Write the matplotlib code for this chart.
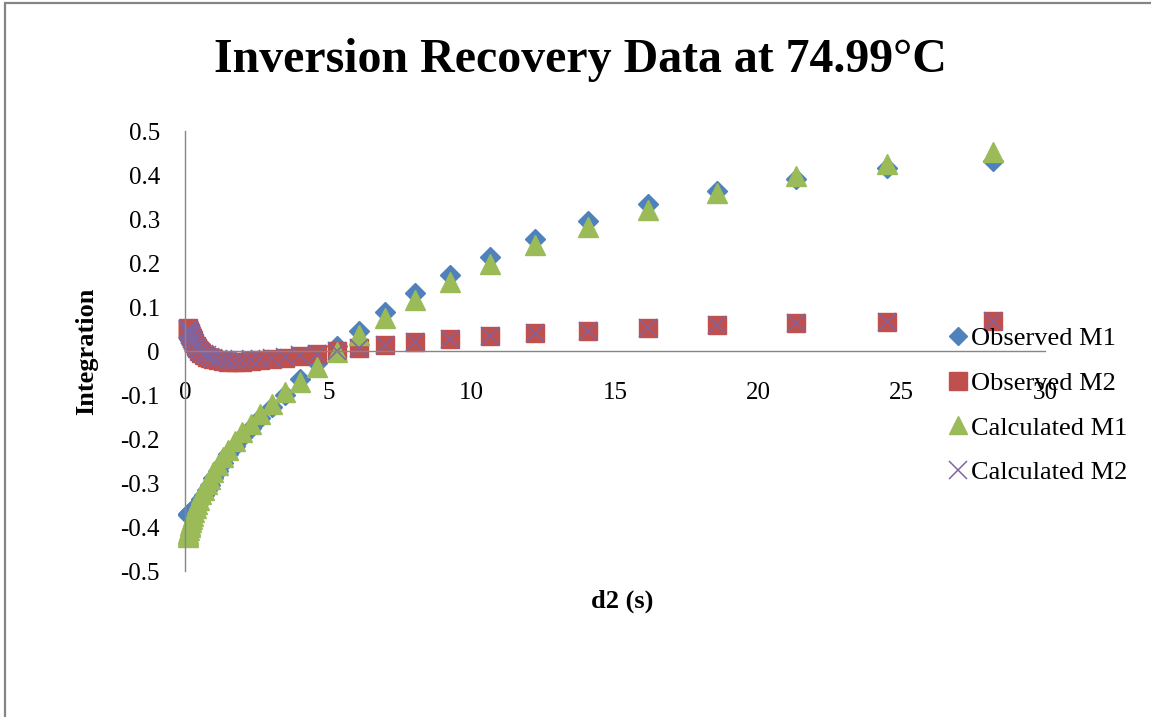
import matplotlib
matplotlib.use("Agg")
import matplotlib.pyplot as plt
from matplotlib.patches import Rectangle

# Delay times d2 (s)
d2 = [0.09, 0.105, 0.12, 0.14, 0.16, 0.185, 0.21, 0.245, 0.28, 0.32, 0.37, 0.43,
      0.49, 0.57, 0.65, 0.75, 0.86, 0.99, 1.14, 1.31, 1.5, 1.73, 1.99, 2.29, 2.63,
      3.02, 3.48, 4.0, 4.6, 5.29, 6.08, 6.99, 8.04, 9.23, 10.63, 12.2, 14.06, 16.15,
      18.57, 21.3, 24.5, 28.2]

observed_m1 = [-0.372, -0.371, -0.370, -0.369, -0.368, -0.367, -0.366, -0.364, -0.362,
               -0.360, -0.356, -0.351, -0.345, -0.337, -0.328, -0.317, -0.304, -0.289,
               -0.272, -0.254, -0.235, -0.215, -0.195, -0.174, -0.152, -0.128, -0.100,
               -0.064, -0.027, 0.012, 0.046, 0.089, 0.131, 0.172, 0.214, 0.255, 0.295,
               0.334, 0.364, 0.392, 0.415, 0.432]

observed_m2 = [0.052, 0.050, 0.048, 0.045, 0.042, 0.038, 0.034, 0.029, 0.024, 0.018,
               0.012, 0.006, 0.000, -0.005, -0.009, -0.013, -0.016, -0.019, -0.021,
               -0.023, -0.024, -0.024, -0.024, -0.023, -0.021, -0.019, -0.016, -0.012,
               -0.007, -0.001, 0.007, 0.014, 0.020, 0.027, 0.033, 0.040, 0.046, 0.052,
               0.059, 0.064, 0.066, 0.068]

calculated_m1 = [-0.423, -0.418, -0.413, -0.407, -0.401, -0.395, -0.389, -0.381, -0.374,
                 -0.366, -0.357, -0.347, -0.338, -0.326, -0.315, -0.303, -0.290, -0.275,
                 -0.259, -0.242, -0.224, -0.205, -0.185, -0.165, -0.144, -0.121, -0.094,
                 -0.070, -0.037, -0.002, 0.037, 0.076, 0.115, 0.156, 0.198, 0.240, 0.282,
                 0.321, 0.358, 0.397, 0.424, 0.452]

calculated_m2 = [0.051, 0.049, 0.047, 0.044, 0.041, 0.037, 0.033, 0.028, 0.023, 0.018,
                 0.012, 0.007, 0.002, -0.003, -0.006, -0.010, -0.013, -0.016, -0.018,
                 -0.019, -0.020, -0.020, -0.020, -0.019, -0.018, -0.016, -0.014, -0.010,
                 -0.006, -0.001, 0.007, 0.014, 0.020, 0.027, 0.033, 0.040, 0.046, 0.052,
                 0.058, 0.063, 0.066, 0.068]

x_ticks = [0, 5, 10, 15, 20, 25, 30]
x_tick_labels = ["0", "5", "10", "15", "20", "25", "30"]
y_ticks = [0.5, 0.4, 0.3, 0.2, 0.1, 0, -0.1, -0.2, -0.3, -0.4, -0.5]
y_tick_labels = ["0.5", "0.4", "0.3", "0.2", "0.1", "0", "-0.1", "-0.2", "-0.3", "-0.4", "-0.5"]

title = "Inversion Recovery Data at 74.99\u00b0C"
series_names = ["Observed M1", "Observed M2", "Calculated M1", "Calculated M2"]

plt.rcParams["font.family"] = ["Liberation Serif", "DejaVu Serif"]

W, H = 1151, 717
fig = plt.figure(figsize=(W / 100, H / 100), dpi=100)
fig.patch.set_facecolor("white")

# chart-area frame (only its left and top edges fall inside the canvas)
fig.add_artist(Rectangle((5 / W, -0.2), 1.3, 1.2 - 3 / H, transform=fig.transFigure,
                         fill=False, edgecolor="#858585", linewidth=1.6))

ax = fig.add_axes([185 / W, 146 / H, 860 / W, 440 / H])
ax.set_xlim(0, 30)
ax.set_ylim(-0.5, 0.5)

axis_grey = "#868686"
for side in ("top", "right"):
    ax.spines[side].set_visible(False)
ax.spines["left"].set_color(axis_grey)
ax.spines["left"].set_linewidth(1.0)
ax.spines["bottom"].set_position(("data", 0))
ax.spines["bottom"].set_color(axis_grey)
ax.spines["bottom"].set_linewidth(1.0)

ax.set_xticks(x_ticks)
ax.set_xticklabels(x_tick_labels, fontsize=18)
ax.set_yticks(y_ticks)
ax.set_yticklabels(y_tick_labels, fontsize=18)
ax.tick_params(axis="x", length=0, pad=22)
ax.tick_params(axis="y", length=0, pad=18)

styles = [
    dict(marker="D", markersize=9.8, color="#4F81BD", mec="#4F81BD"),
    dict(marker="s", markersize=13.4, color="#C0504D", mec="#C0504D"),
    dict(marker="^", markersize=14.0, color="#9BBB59", mec="#9BBB59"),
    dict(marker="x", markersize=13.0, color="#8064A2", mec="#8064A2", mew=1.1),
]
series = [observed_m1, observed_m2, calculated_m1, calculated_m2]
handles = []
for ys, name, st in zip(series, series_names, styles):
    (h,) = ax.plot(d2, ys, linestyle="none", label=name, clip_on=False, **st)
    handles.append(h)

ax.set_xlabel("d2 (s)", fontsize=19, fontweight="bold", va="baseline")
ax.xaxis.set_label_coords((622 - 185) / 860, (571 - 608) / 440)
ax.set_ylabel("Integration", fontsize=19, fontweight="bold", va="center")
ax.yaxis.set_label_coords((87 - 185) / 860, 0.5)

fig.text(580 / W, 1 - 72 / H, title, ha="center", va="baseline",
         fontsize=34.5, fontweight="bold")

leg = fig.legend(handles=handles, labels=series_names, loc="upper left",
                 bbox_to_anchor=(949 / W, 1 - 327 / H), frameon=False,
                 fontsize=19, handlelength=0.7, handletextpad=0.15,
                 labelspacing=0.80, borderpad=0, borderaxespad=0, markerscale=0.95)

fig.savefig("out.png", dpi=100)
